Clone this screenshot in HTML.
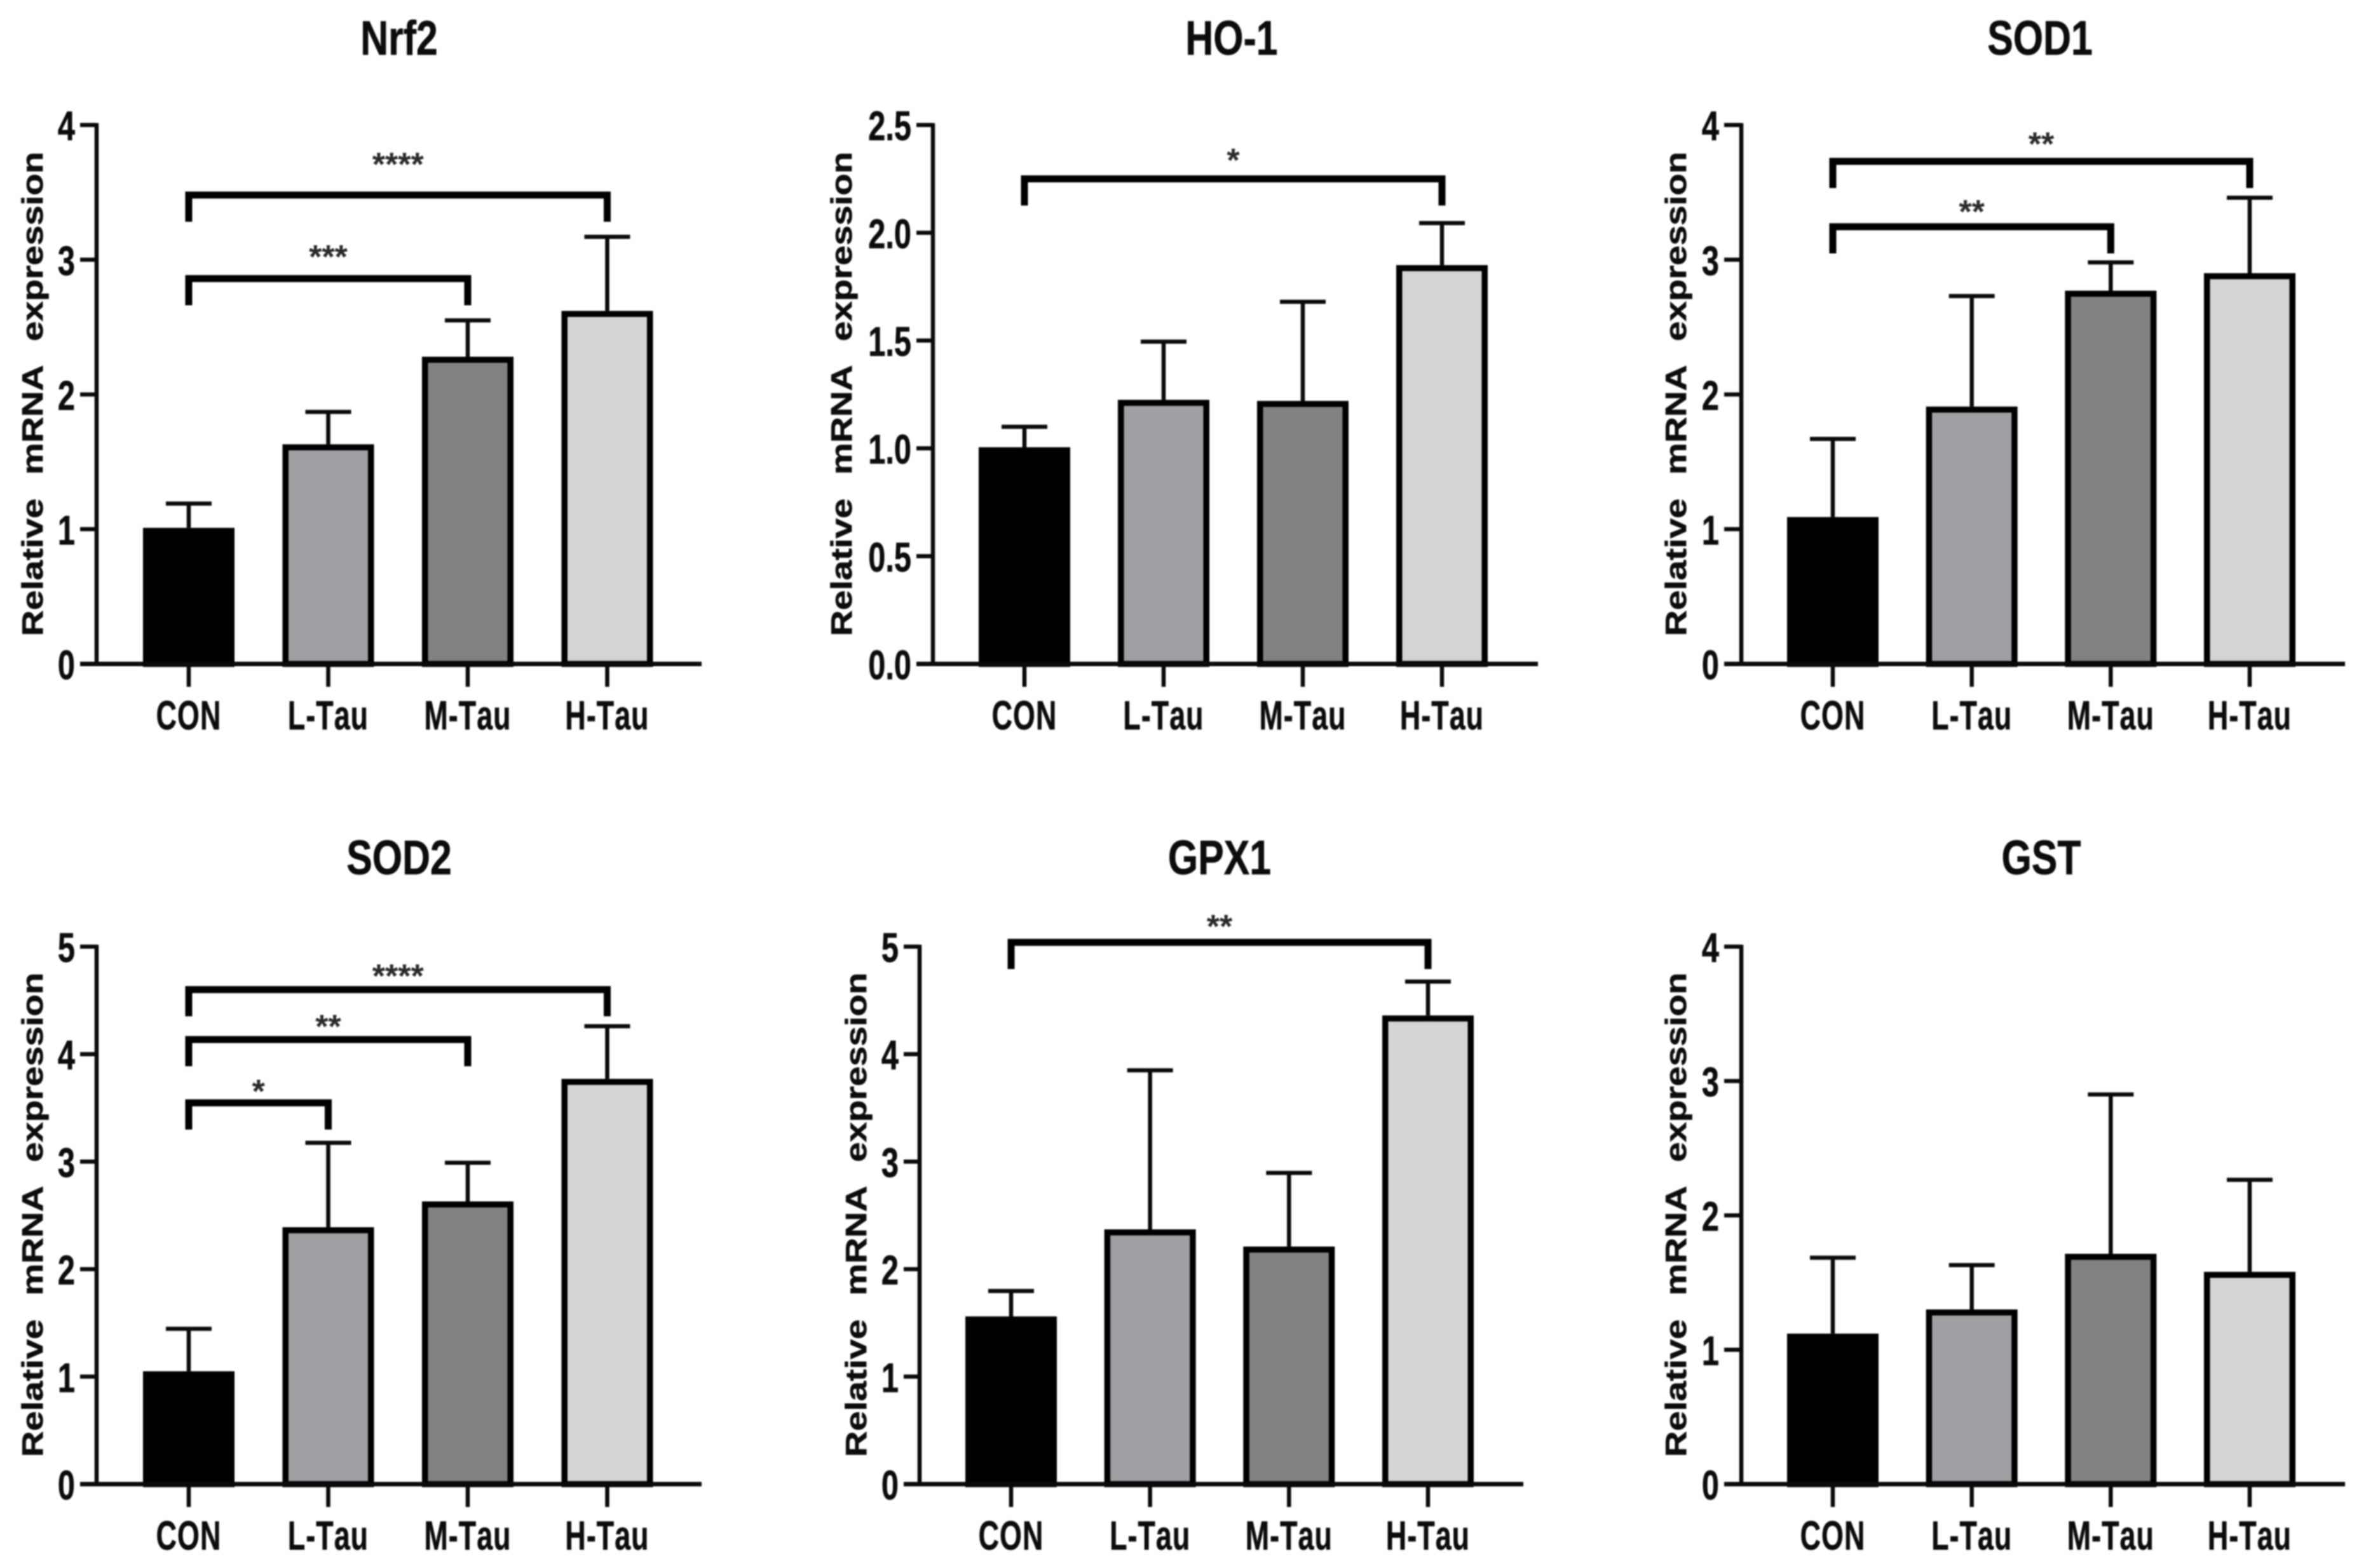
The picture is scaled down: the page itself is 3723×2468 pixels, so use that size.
<!DOCTYPE html>
<html lang="en">
<head>
<meta charset="utf-8">
<title>Relative mRNA expression panels</title>
<style>
html,body{margin:0;padding:0;background:#fff;width:3723px;height:2468px;overflow:hidden}
#figure{display:block;width:3723px;height:2468px;filter:blur(1.1px)}
text{font-family:"Liberation Sans",Arial,sans-serif;fill:#0c0c0c;stroke:#0c0c0c;stroke-width:.7px;font-kerning:none}
</style>
</head>
<body>
<svg id="figure" xmlns="http://www.w3.org/2000/svg" width="3723" height="2468" viewBox="0 0 3723 2468"></svg>
<script>
const categories = ['CON', 'L-Tau', 'M-Tau', 'H-Tau'];
const barColors = ['#000000', '#a09fa3', '#828282', '#d4d4d4'];
const yAxisTitle = 'Relative  mRNA  expression';

const nrf2Means = [1.01, 1.63, 2.28, 2.62];
const nrf2ErrorTops = [1.19, 1.87, 2.55, 3.17];
const nrf2Ticks = ['0', '1', '2', '3', '4'];
const nrf2Brackets = [
  {from: 0, to: 3, level: 3.48, stars: '****', starLevel: 3.765},
  {from: 0, to: 2, level: 2.86, stars: '***', starLevel: 3.08}
];

const ho1Means = [1.005, 1.225, 1.22, 1.85];
const ho1ErrorTops = [1.1, 1.495, 1.68, 2.045];
const ho1Ticks = ['0.0', '0.5', '1.0', '1.5', '2.0', '2.5'];
const ho1Brackets = [
  {from: 0, to: 3, level: 2.25, stars: '*', starLevel: 2.373}
];

const sod1Means = [1.09, 1.91, 2.77, 2.9];
const sod1ErrorTops = [1.67, 2.73, 2.98, 3.46];
const sod1Ticks = ['0', '1', '2', '3', '4'];
const sod1Brackets = [
  {from: 0, to: 3, level: 3.73, stars: '**', starLevel: 3.915},
  {from: 0, to: 2, level: 3.245, stars: '**', starLevel: 3.415}
];

const sod2Means = [1.05, 2.39, 2.63, 3.77];
const sod2ErrorTops = [1.445, 3.175, 2.99, 4.26];
const sod2Ticks = ['0', '1', '2', '3', '4', '5'];
const sod2Brackets = [
  {from: 0, to: 3, level: 4.6, stars: '****', starLevel: 4.8},
  {from: 0, to: 2, level: 4.136, stars: '**', starLevel: 4.33},
  {from: 0, to: 1, level: 3.547, stars: '*', starLevel: 3.725}
];

const gpx1Means = [1.56, 2.37, 2.21, 4.36];
const gpx1ErrorTops = [1.797, 3.85, 2.895, 4.675];
const gpx1Ticks = ['0', '1', '2', '3', '4', '5'];
const gpx1Brackets = [
  {from: 0, to: 3, level: 5.04, stars: '**', starLevel: 5.26}
];

const gstMeans = [1.12, 1.3, 1.714, 1.58];
const gstErrorTops = [1.685, 1.63, 2.9, 2.265];
const gstTicks = ['0', '1', '2', '3', '4'];
const gstBrackets = [];

const svg = document.getElementById('figure');
const NS = 'http://www.w3.org/2000/svg';

function make(parent, tag, attrs, name) {
  const el = document.createElementNS(NS, tag);
  for (const k in attrs) el.setAttribute(k, attrs[k]);
  
  
  parent.appendChild(el);
  return el;
}

function line(parent, x1, y1, x2, y2, width, name) {
  return make(parent, 'line', {x1: x1, y1: y1, x2: x2, y2: y2, stroke: '#0a0a0a', 'stroke-width': width}, name);
}

function label(parent, str, x, y, size, weight, anchor, scaleX, name, extra) {
  const attrs = {
    transform: 'translate(' + x + ',' + y + ') ' + (extra || '') + ' scale(' + scaleX + ',1)',
    'font-size': size,
    'font-weight': weight,
    'text-anchor': anchor
  };
  const el = make(parent, 'text', attrs, name);
  el.textContent = str;
  return el;
}

function drawPanel(cfg) {
  const g = make(svg, 'g', {}, 'panel-' + cfg.key);
  const yMax = parseFloat(cfg.ticks[cfg.ticks.length - 1]);
  const yScale = v => cfg.y0 - (v / yMax) * (cfg.y0 - cfg.yTop);
  const xScale = i => cfg.xFirst + i * (cfg.xLast - cfg.xFirst) / (categories.length - 1);

  label(g, cfg.title, cfg.titleX, cfg.titleY, 76, 'bold', 'middle', 0.8, 'chart-title');

  const yt = label(g, yAxisTitle, cfg.yTitleX, cfg.yTitleY, 46, 'bold', 'middle', 1.228, 'y-axis-title', 'rotate(-90)');
  yt.setAttribute('style', 'white-space:pre;word-spacing:2.5px');

  const barW = 144, sw = 9.5;
  cfg.means.forEach((v, i) => {
    const cx = xScale(i);
    const top = yScale(v);
    make(g, 'rect', {
      x: cx - barW / 2 + sw / 2,
      y: top + sw / 2,
      width: barW - sw,
      height: cfg.y0 - top - sw / 2,
      fill: barColors[i],
      stroke: '#000',
      'stroke-width': sw
    }, 'bar-' + categories[i].toLowerCase());
    const errTop = yScale(cfg.tops[i]);
    line(g, cx, top, cx, errTop, 6.5, 'error-bar-' + categories[i].toLowerCase());
    line(g, cx - 36, errTop, cx + 36, errTop, 6.5, 'error-cap-' + categories[i].toLowerCase());
  });

  line(g, cfg.axisX, cfg.yTop - 3, cfg.axisX, cfg.y0, 6.5, 'y-axis-line');
  line(g, cfg.axisStart, cfg.y0, cfg.axisEnd, cfg.y0, 7, 'x-axis-line');

  cfg.ticks.forEach(t => {
    const y = yScale(parseFloat(t));
    line(g, cfg.axisStart, y, cfg.axisX, y, 6.5, 'y-tick');
    label(g, t, cfg.axisStart - 8, y + 24, 65, 'bold', 'end', 0.75, 'y-tick-label');
  });

  categories.forEach((c, i) => {
    const cx = xScale(i);
    line(g, cx, cfg.y0, cx, cfg.y0 + 36, 6.5, 'x-tick');
    const xl = label(g, c, cx, cfg.y0 + 103, 64, 'bold', 'middle', 0.7, 'x-tick-label');
    xl.setAttribute('style', 'letter-spacing:1.5px');
  });

  cfg.brackets.forEach(b => {
    const y = yScale(b.level);
    const x1 = xScale(b.from), x2 = xScale(b.to);
    make(g, 'polyline', {
      points: x1 + ',' + (y + 42) + ' ' + x1 + ',' + y + ' ' + x2 + ',' + y + ' ' + x2 + ',' + (y + 42),
      fill: 'none',
      stroke: '#000',
      'stroke-width': 11,
      'stroke-linejoin': 'miter'
    }, 'significance-bracket');
    const star = label(g, b.stars, (x1 + x2) / 2, yScale(b.starLevel) + 30, 52, 'bold', 'middle', 1, 'significance-stars');
    star.setAttribute('style', 'fill:#2a2a2a;stroke:none');
  });
}

drawPanel({key: 'nrf2', title: 'Nrf2', titleX: 628, titleY: 86, yTitleX: 67, yTitleY: 620,
  axisX: 152, axisStart: 126, axisEnd: 1104, xFirst: 297, xLast: 955.5, y0: 1045, yTop: 196.7,
  means: nrf2Means, tops: nrf2ErrorTops, ticks: nrf2Ticks, brackets: nrf2Brackets});

drawPanel({key: 'ho1', title: 'HO-1', titleX: 1938, titleY: 86, yTitleX: 1340, yTitleY: 620,
  axisX: 1468, axisStart: 1442, axisEnd: 2420, xFirst: 1612, xLast: 2269, y0: 1045, yTop: 196.7,
  means: ho1Means, tops: ho1ErrorTops, ticks: ho1Ticks, brackets: ho1Brackets});

drawPanel({key: 'sod1', title: 'SOD1', titleX: 3210, titleY: 86, yTitleX: 2653, yTitleY: 620,
  axisX: 2740, axisStart: 2713, axisEnd: 3690, xFirst: 2884, xLast: 3540, y0: 1045, yTop: 196.7,
  means: sod1Means, tops: sod1ErrorTops, ticks: sod1Ticks, brackets: sod1Brackets});

drawPanel({key: 'sod2', title: 'SOD2', titleX: 628, titleY: 1376, yTitleX: 67, yTitleY: 1912,
  axisX: 152, axisStart: 126, axisEnd: 1104, xFirst: 297, xLast: 955.5, y0: 2336, yTop: 1490,
  means: sod2Means, tops: sod2ErrorTops, ticks: sod2Ticks, brackets: sod2Brackets});

drawPanel({key: 'gpx1', title: 'GPX1', titleX: 1919, titleY: 1376, yTitleX: 1363, yTitleY: 1912,
  axisX: 1447, axisStart: 1422, axisEnd: 2397, xFirst: 1591, xLast: 2247, y0: 2336, yTop: 1490,
  means: gpx1Means, tops: gpx1ErrorTops, ticks: gpx1Ticks, brackets: gpx1Brackets});

drawPanel({key: 'gst', title: 'GST', titleX: 3212, titleY: 1376, yTitleX: 2653, yTitleY: 1912,
  axisX: 2740, axisStart: 2713, axisEnd: 3690, xFirst: 2884, xLast: 3540, y0: 2336, yTop: 1490,
  means: gstMeans, tops: gstErrorTops, ticks: gstTicks, brackets: gstBrackets});
</script>
</body>
</html>
